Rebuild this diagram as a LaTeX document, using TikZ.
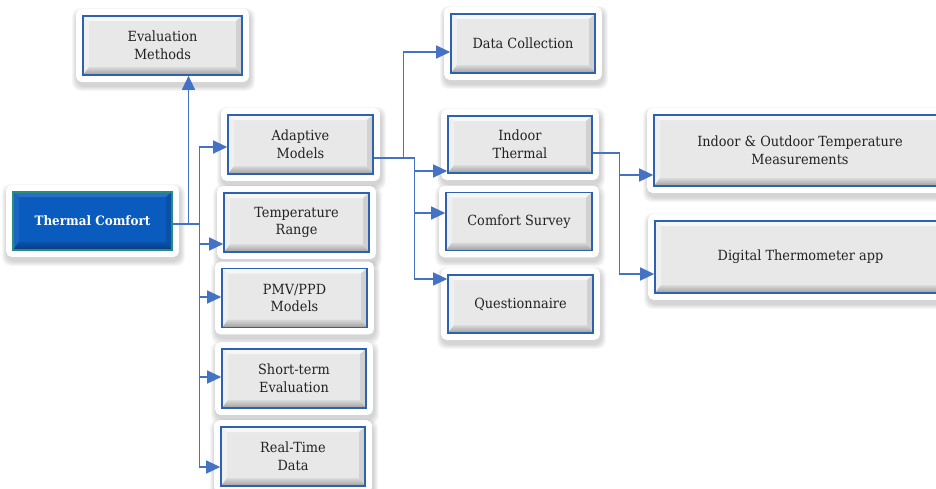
\documentclass[tikz,border=0pt]{standalone}
\usepackage{fontspec}
\setmainfont{DejaVu Serif}[FakeStretch=0.92]
\usetikzlibrary{arrows.meta,calc,backgrounds}
\definecolor{lineblue}{HTML}{4472C4}
\definecolor{boxblue}{HTML}{2E62AE}
\definecolor{facegray}{HTML}{E8E8E8}
\definecolor{txt}{HTML}{222222}
\definecolor{tcface}{HTML}{0A5BBE}
\definecolor{tcborder}{HTML}{2A8C7C}
\tikzset{
  conn/.style={draw=lineblue, line width=1.2pt},
  arr/.style={conn, -{Triangle[length=14pt,width=13pt]}},
  bevel/.style n args={5}{path picture={
     \coordinate (SW) at (path picture bounding box.south west);
     \coordinate (NE) at (path picture bounding box.north east);
     \coordinate (NW) at (SW|-NE);
     \coordinate (SE) at (NE|-SW);
     \fill[#1] (NW) -- (NE) -- ([shift={(-6pt,-5pt)}]NE) -- ([shift={(6pt,-5pt)}]NW) -- cycle;
     \fill[#2] (NW) -- ([shift={(6pt,-5pt)}]NW) -- ([shift={(6pt,8pt)}]SW) -- (SW) -- cycle;
     \fill[#3] (NE) -- (SE) -- ([shift={(-6pt,8pt)}]SE) -- ([shift={(-6pt,-5pt)}]NE) -- cycle;
     \shade[top color=#4, bottom color=#5] (SW) -- ([shift={(6pt,8pt)}]SW) -- ([shift={(-6pt,8pt)}]SE) -- (SE) -- cycle;
  }},
  gbox/.style={rectangle, draw=boxblue, line width=1.6pt, fill=facegray, text=txt,
    align=center, inner sep=0pt, font=\fontsize{14}{17.5}\selectfont,
    bevel={white!65!facegray}{white!35!facegray}{black!10!facegray}{black!6!facegray}{black!32!facegray}},
  tcbox/.style={gbox, draw=tcborder, fill=tcface, text=white,
    font=\bfseries\fontsize{13}{15}\selectfont,
    bevel={white!12!tcface}{white!6!tcface}{black!12!tcface}{black!10!tcface}{black!35!tcface}},
  whiteframe/.style={fill=white, rounded corners=5pt},
  softshadow/.style={fill=black, fill opacity=0.035, rounded corners=8pt},
}
\begin{document}
\begin{tikzpicture}[x=1pt,y=-1pt]
\useasboundingbox (0,0) rectangle (936,488);

\node[tcbox, minimum width=159pt, minimum height=58pt] (tc) at (92.5,221) {Thermal Comfort};
\node[gbox, minimum width=159pt, minimum height=59pt] (em) at (162.5,45.5) {Evaluation\\Methods};
\node[gbox, minimum width=145pt, minimum height=59pt] (am) at (300.5,144.5) {Adaptive\\Models};
\node[gbox, minimum width=145pt, minimum height=59pt] (tr) at (296.5,222.5) {Temperature\\Range};
\node[gbox, minimum width=145pt, minimum height=59pt] (pmv) at (294.5,298) {PMV/PPD\\Models};
\node[gbox, minimum width=144pt, minimum height=59pt] (st) at (294,378.5) {Short-term\\Evaluation};
\node[gbox, minimum width=144pt, minimum height=59pt] (rt) at (293,456.5) {Real-Time\\Data};
\node[gbox, minimum width=144pt, minimum height=59pt] (dc) at (523,43.5) {Data Collection};
\node[gbox, minimum width=144pt, minimum height=57pt] (it) at (520,144.5) {Indoor\\Thermal};
\node[gbox, minimum width=146pt, minimum height=58pt] (cs) at (519,221.5) {Comfort Survey};
\node[gbox, minimum width=145pt, minimum height=58pt] (q) at (520.5,304) {Questionnaire};
\node[gbox, minimum width=292pt, minimum height=71pt] (io) at (800,150.5) {Indoor \& Outdoor Temperature\\Measurements};
\node[gbox, minimum width=291pt, minimum height=72pt] (dt) at (800.5,257) {Digital Thermometer app};

\begin{pgfonlayer}{background}
  \foreach \n in {tc,em,am,tr,pmv,st,rt,dc,it,cs,q,io,dt}{
    \foreach \k in {7,8,...,11}{
      \fill[softshadow] ([shift={(-\k pt+1pt,\k pt-4pt)}]\n.north west) rectangle ([shift={(\k pt+1pt,-\k pt-4pt)}]\n.south east);
    }
  }
  \foreach \n in {tc,em,am,tr,pmv,st,rt,dc,it,cs,q,io,dt}{
    \fill[whiteframe] ([shift={(-6pt,6pt)}]\n.north west) rectangle ([shift={(6pt,-6pt)}]\n.south east);
  }
\end{pgfonlayer}

% from Thermal Comfort
\draw[arr] ([yshift=-3pt]tc.east) -| ([xshift=26pt]em.south);
\draw[conn] ([yshift=-3pt]tc.east) -- ++(27,0) coordinate (j0);
\draw[arr] (j0) |- ([yshift=-2.5pt]am.west);
\draw[arr] (j0) |- ([yshift=-21.5pt]tr.west);
\draw[arr] (j0) |- ([yshift=1pt]pmv.west);
\draw[arr] (j0) |- ([yshift=1.5pt]st.west);
\draw[arr] (j0) |- ([yshift=-10.5pt]rt.west);

% from Adaptive Models
\draw[conn] ([yshift=-13.5pt]am.east) -- ++(30,0) coordinate (j1) -- ++(11,0) coordinate (j2);
\draw[arr] (j1) |- ([yshift=-8.5pt]dc.west);
\draw[arr] (j2) |- ([yshift=-26.5pt]it.west);
\draw[arr] (j2) |- ([yshift=8.5pt]cs.west);
\draw[arr] (j2) |- ([yshift=25pt]q.west);

% from Indoor Thermal
\draw[conn] ([yshift=-8.5pt]it.east) -- ++(27,0) coordinate (j3);
\draw[arr] (j3) |- ([yshift=-24.5pt]io.west);
\draw[arr] (j3) |- ([yshift=-17pt]dt.west);
\end{tikzpicture}
\end{document}
